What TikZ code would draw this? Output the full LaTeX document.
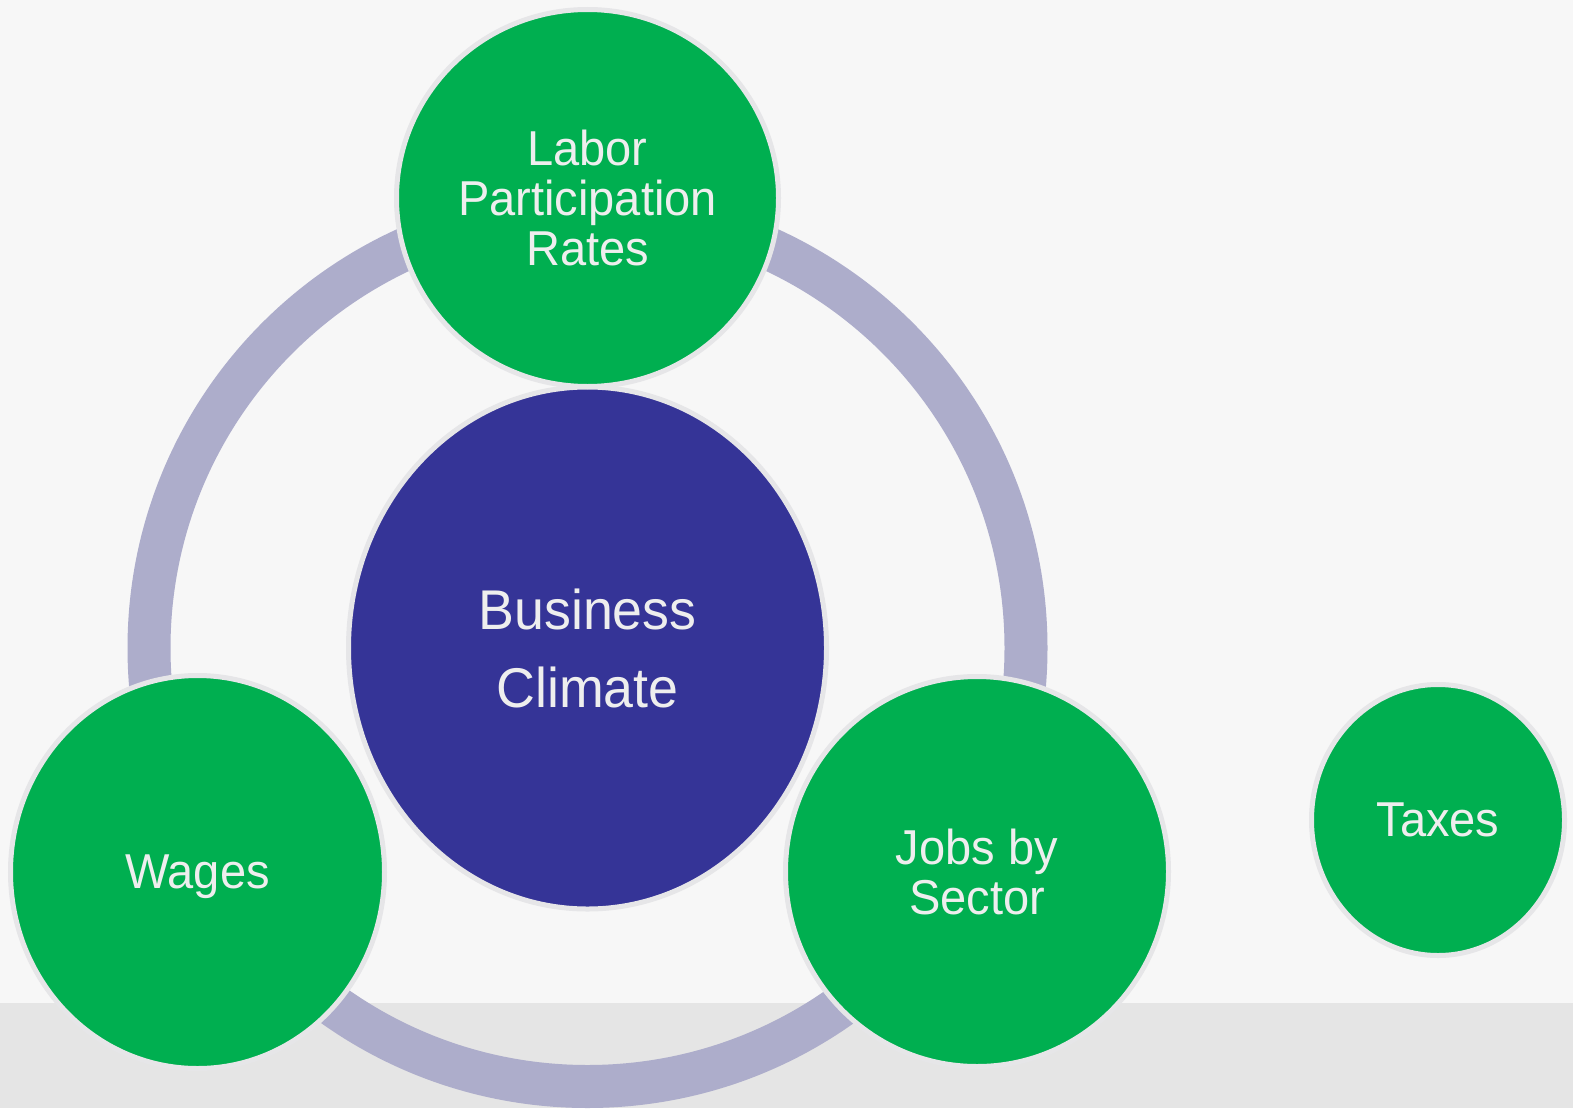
\documentclass[tikz,border=0pt]{standalone}
\usepackage{fontspec}
\setmainfont{Liberation Sans}[FakeStretch=0.96]
\usetikzlibrary{shapes.geometric}

\definecolor{pagebg}{HTML}{F7F7F7}
\definecolor{floorbg}{HTML}{E5E5E5}
\definecolor{ringcol}{HTML}{ADADCB}
\definecolor{hubcol}{HTML}{353497}
\definecolor{leafcol}{HTML}{00AF50}
\definecolor{rimcol}{HTML}{E6E6E8}
\definecolor{labelcol}{HTML}{EEEEEE}

\tikzset{
  bubble/.style={ellipse, draw=rimcol, line width=5pt, inner sep=0pt,
    text=labelcol, align=center},
  leaf/.style={bubble, fill=leafcol, font=\fontsize{49}{50}\selectfont},
  hub/.style={bubble, fill=hubcol, font=\fontsize{56}{78}\selectfont},
  ring/.style={draw=ringcol, line width=43pt}
}

\begin{document}
\begin{tikzpicture}[x=1pt, y=-1pt]
  % Background
  \useasboundingbox (0,0) rectangle (1573,1108);
  \fill[pagebg] (0,0) rectangle (1573,1108);
  \fill[floorbg] (0,1003) rectangle (1573,1108);

  % Centre and ring
  \coordinate (core) at (587.5,648);
  \draw[ring] (core) circle[radius=438.5pt];
  \node[hub, minimum width=478pt, minimum height=522pt] (climate) at (core) {Business\\Climate};

  % Factors
  \node[leaf, minimum width=382pt, minimum height=377pt] (labor) at (587.5,198) {Labor\\Participation\\Rates};
  \node[leaf, minimum width=374pt, minimum height=393pt, text depth=0pt] (wages) at (197.5,872) {Wages};
  \node[leaf, minimum width=383pt, minimum height=390pt] (jobs) at (977,871.5) {Jobs by\\Sector};
  \node[leaf, minimum width=253pt, minimum height=271pt] (taxes) at (1438,820) {Taxes};
\end{tikzpicture}
\end{document}
